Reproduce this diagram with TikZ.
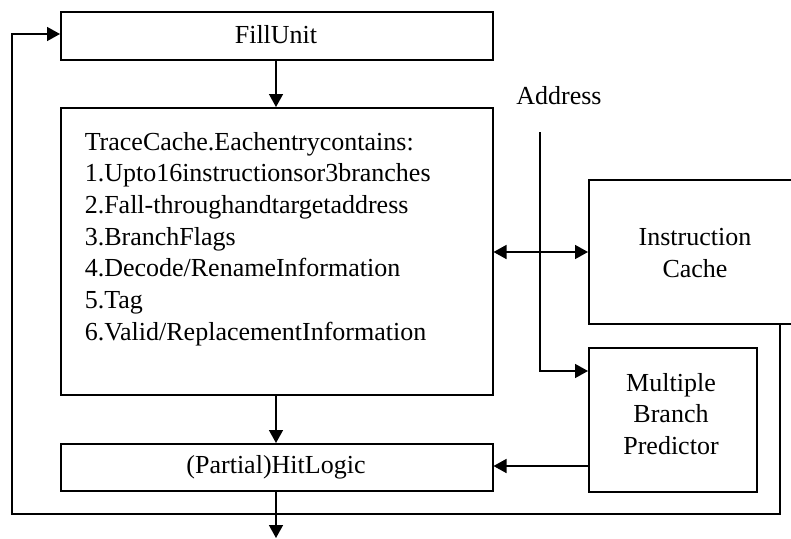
\documentclass[tikz,border=0pt]{standalone}
\usepackage{fontspec}
\setmainfont{Liberation Serif}
\usetikzlibrary{arrows.meta}
\begin{document}
\begin{tikzpicture}[x=1pt,y=-1pt,line width=1.5pt,
  >={Triangle[length=13pt,width=14pt]},
  box/.style={draw,rectangle,inner sep=0pt,anchor=north west},
  txt/.style={font=\fontsize{26}{31.7}\selectfont,inner sep=0pt}]
\useasboundingbox (0,0) rectangle (791,538);
\clip (0,0) rectangle (791,538);
% boxes
\node[box,minimum width=432pt,minimum height=48pt] (fill) at (60,11) {};
\node[txt] (filltxt) at (276,35) {FillUnit};
\node[box,minimum width=432pt,minimum height=287pt] (trace) at (60,107) {};
\node[txt,anchor=base west] (tracetxt) at (84,150) {TraceCache.Eachentrycontains:};
\node[txt,anchor=base west] (t1) at (84,181.7) {1.Upto16instructionsor3branches};
\node[txt,anchor=base west] (t2) at (84,213.4) {2.Fall-throughandtargetaddress};
\node[txt,anchor=base west] (t3) at (84,245.1) {3.BranchFlags};
\node[txt,anchor=base west] (t4) at (84,276.8) {4.Decode/RenameInformation};
\node[txt,anchor=base west] (t5) at (84,308.5) {5.Tag};
\node[txt,anchor=base west] (t6) at (84,340.2) {6.Valid/ReplacementInformation};
\node[box,minimum width=432pt,minimum height=47pt] (hit) at (60,443) {};
\node[txt] (hittxt) at (276,467) {(Partial)HitLogic};
\node[box,minimum width=168pt,minimum height=144pt] (mbp) at (588,347) {};
\node[txt,align=center] (mbptxt) at (671,414) {Multiple\\Branch\\Predictor};
\node[box,minimum width=230pt,minimum height=144pt] (ic) at (588,179) {};
\node[txt,align=center] (ictxt) at (695,253) {Instruction\\Cache};
\node[txt] (addr) at (559,96) {Address};
% coordinates
\coordinate (atop) at (540,132);
\coordinate (acorner) at (540,371);
\coordinate (icout) at (780,323);
\coordinate (out) at (276,538);
% connectors
\draw[->] (fill.south -| filltxt) -- (trace.north -| filltxt);
\draw[->] (trace.south -| hittxt) -- (hit.north -| hittxt);
\draw[->] (hit.south -| hittxt) -- (out);
\draw[<->] (trace.east |- 0,252) -- (ic.west |- 0,252);
\draw[->] (atop) -- (acorner) -- (mbp.west |- acorner);
\draw[->] (mbp.west |- 0,466) -- (hit.east |- 0,466);
\draw[->] (icout) -- (780,514) -- (12,514) -- (12,34) -- (fill.west |- 0,34);
\end{tikzpicture}
\end{document}
